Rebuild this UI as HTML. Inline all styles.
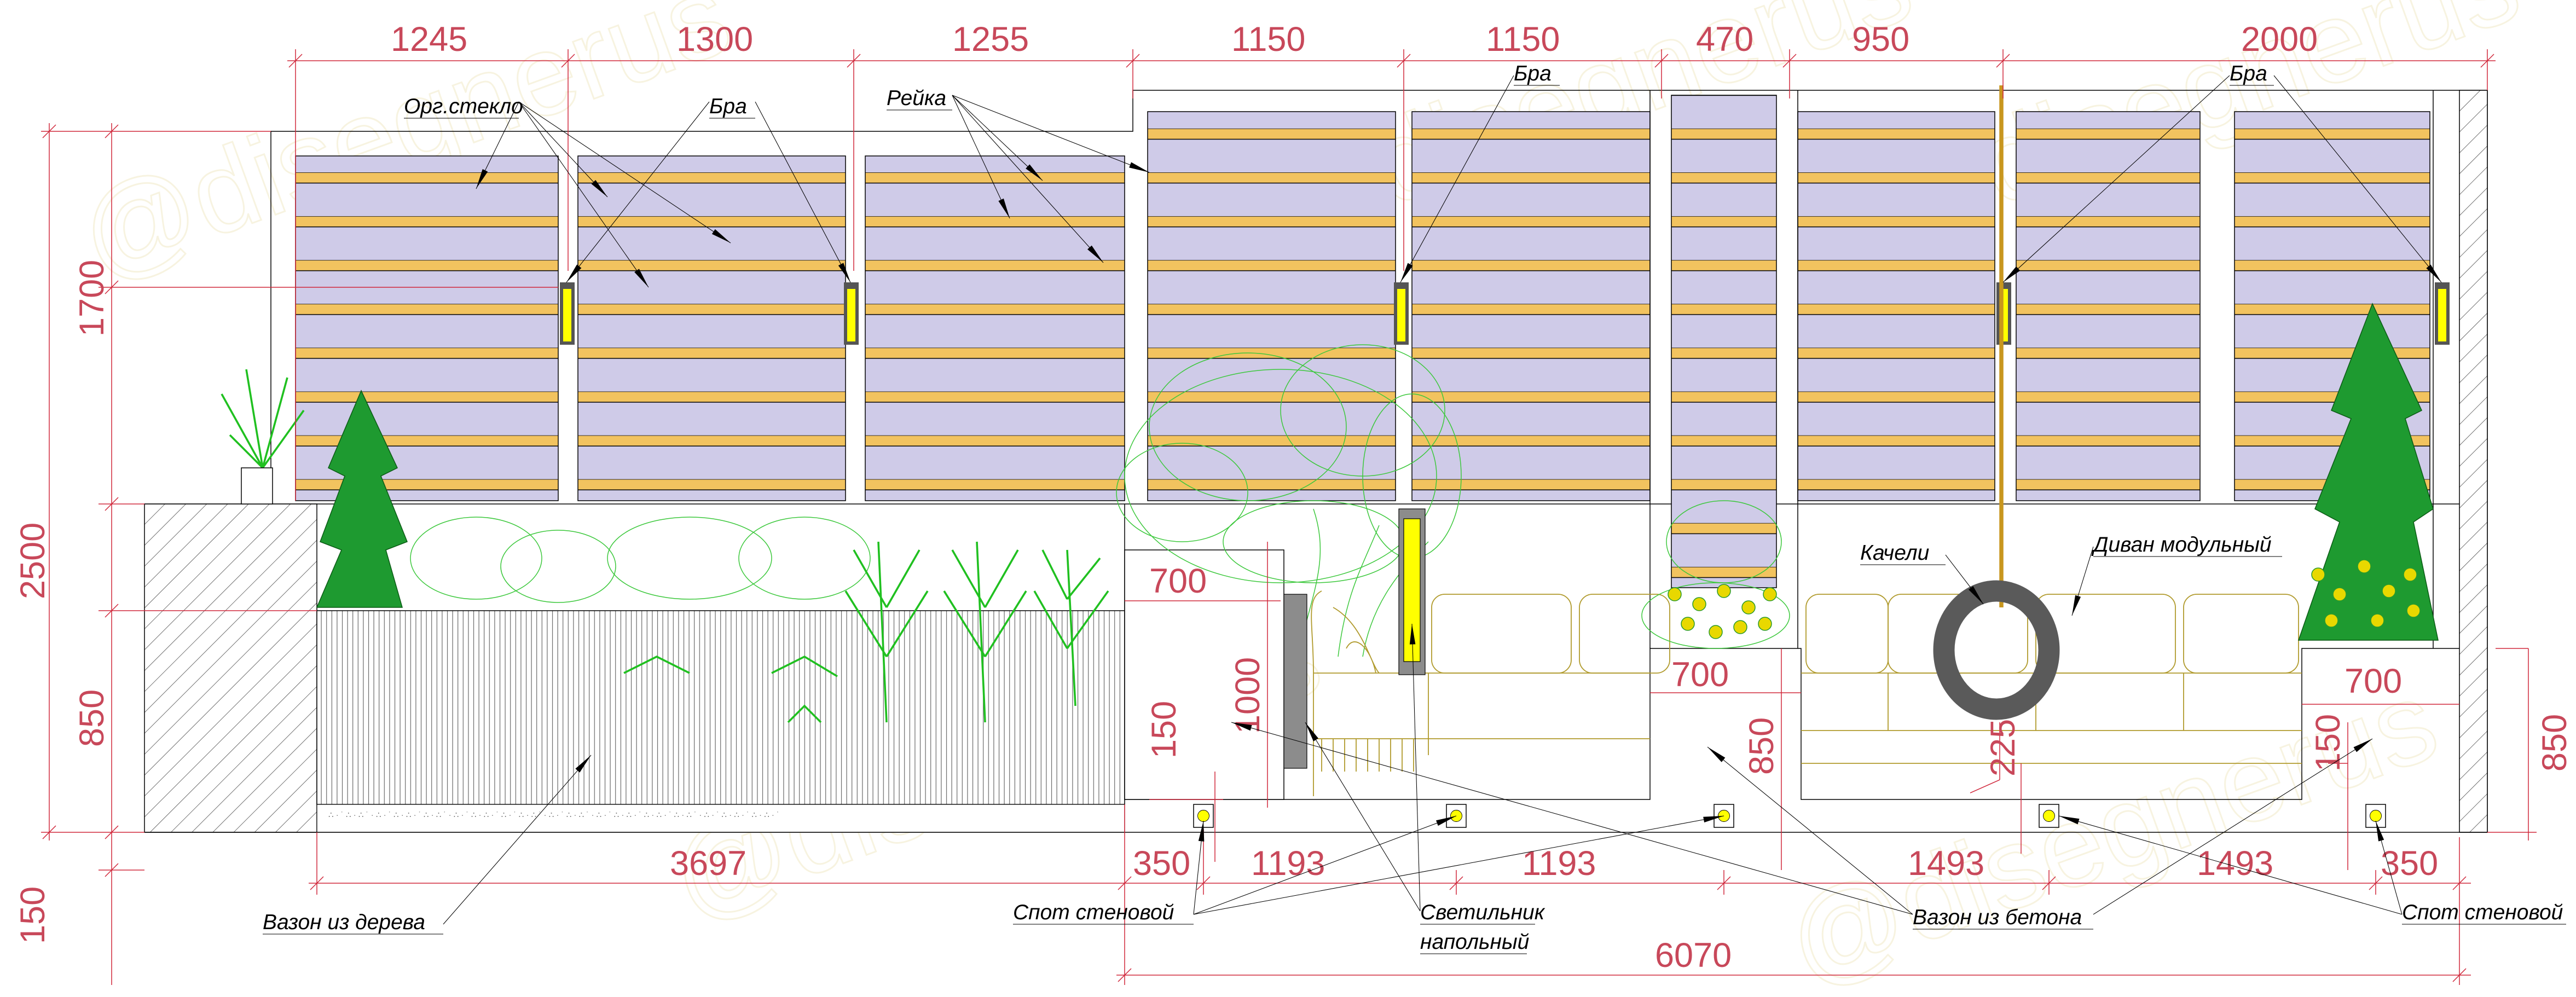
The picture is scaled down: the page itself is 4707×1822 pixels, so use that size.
<!DOCTYPE html>
<html><head><meta charset="utf-8"><style>
html,body{margin:0;padding:0;background:#fff;}
svg{display:block}
.lb{font-family:"Liberation Sans",sans-serif;font-style:italic;font-size:13px;fill:#000}
.dm{font-family:"Liberation Sans Narrow","Liberation Sans",sans-serif;font-size:21px;fill:#c8485a}
.r{stroke:#d0283c;stroke-width:0.5;fill:none}
.k{stroke:#000;stroke-width:0.5;fill:none}
.ld{stroke:#000;stroke-width:0.35;fill:none}
.g{stroke:#3cc83c;stroke-width:0.5;fill:none}
.s{stroke:#b09a2c;stroke-width:0.6;fill:none}
</style></head><body>
<svg width="4707" height="1822" viewBox="0 0 1569 607.33" preserveAspectRatio="none" xmlns="http://www.w3.org/2000/svg">
<defs>
<pattern id="sl" patternUnits="userSpaceOnUse" x="0" y="24.9" width="1569" height="26.7">
<rect width="1569" height="26.7" fill="#cfcbe8"/>
<rect y="0" width="1569" height="6.5" fill="#f2c35f"/>
<line x1="0" y1="0" x2="1569" y2="0" stroke="#000" stroke-width="0.5"/>
<line x1="0" y1="6.5" x2="1569" y2="6.5" stroke="#000" stroke-width="0.5"/>
</pattern>
<pattern id="st" patternUnits="userSpaceOnUse" width="3.2" height="10">
<rect width="3.2" height="10" fill="#fff"/><line x1="0.5" y1="0" x2="0.5" y2="10" stroke="#666" stroke-width="0.4"/>
</pattern>
<pattern id="ht" patternUnits="userSpaceOnUse" width="9" height="9" patternTransform="rotate(45)">
<rect width="9" height="9" fill="#fff"/><line x1="0" y1="0" x2="0" y2="9" stroke="#444" stroke-width="0.5"/>
</pattern>
<marker id="ar" viewBox="0 0 10 4" refX="10" refY="2" markerWidth="14" markerHeight="5" orient="auto" markerUnits="userSpaceOnUse"><path d="M0,0.6 L10,2 L0,3.4z" fill="#000"/></marker>
</defs>
<rect width="1569" height="608" fill="#fff"/>
<!-- watermarks -->
<g font-family="Liberation Sans,sans-serif" font-size="70" fill="none" stroke="#f7f3e0" stroke-width="1">
<text x="60" y="170" transform="rotate(-20 60 170)">@disegnerus</text>
<text x="780" y="150" transform="rotate(-20 780 150)">@disegnerus</text>
<text x="1150" y="150" transform="rotate(-20 1150 150)">@disegnerus</text>
<text x="420" y="560" transform="rotate(-20 420 560)">@disegnerus</text>
<text x="1100" y="600" transform="rotate(-20 1100 600)">@disegnerus</text>
</g>

<!-- frame -->
<path class="k" d="M165,307 V80 H690 V55 H1515 V507"/>
<line class="k" x1="88" y1="307" x2="1498" y2="307"/>
<!-- panels -->
<g stroke="#000" stroke-width="0.5" fill="url(#sl)">
<rect x="180" y="95" width="160" height="210"/>
<rect x="352" y="95" width="163" height="210"/>
<rect x="527" y="95" width="158" height="210"/>
<rect x="699" y="68" width="151" height="237"/>
<rect x="860" y="68" width="145" height="237"/>
<rect x="1018" y="58" width="64" height="300"/>
<rect x="1095" y="68" width="120" height="237"/>
<rect x="1228" y="68" width="112" height="237"/>
<rect x="1361" y="68" width="119" height="237"/>
</g>
<line class="k" x1="1005" y1="55" x2="1005" y2="395"/><line class="k" x1="1095" y1="55" x2="1095" y2="395"/>
<!-- right wall -->
<rect x="1498" y="55" width="17" height="452" fill="url(#ht)" stroke="#000" stroke-width="0.5"/>
<line class="k" x1="1482" y1="55" x2="1482" y2="395"/>
<!-- left wall -->
<rect x="88" y="307" width="105" height="200" fill="url(#ht)" stroke="#000" stroke-width="0.5"/>
<!-- wooden planter -->
<rect x="193" y="372" width="492" height="118" fill="url(#st)" stroke="#000" stroke-width="0.5"/>
<rect x="193" y="490" width="492" height="17" fill="#fff" stroke="#000" stroke-width="0.4"/>
<g fill="#777" font-size="5" font-family="Liberation Sans">
<text x="200" y="498">∴ · ˙ ∴  · ∴ ˙ · ∴ · ˙ ∴ ·  ∴ · ˙ ∴ · ∴ ˙ · ∴ · ˙ ∴ · ∴ · ˙ ∴ · ˙ ∴ · ∴ ˙ · ∴ · ˙ ∴ · ∴ ˙ · ∴ · ˙ ∴ · ∴ · ˙ ∴ ·  ∴ · ˙ ∴ · ∴ ˙ · ∴ · ˙ ∴ · ∴ · ˙ ∴ · ∴ · ˙</text>
</g>
<!-- ground -->
<line class="k" x1="88" y1="507" x2="1515" y2="507"/>
<!-- concrete planters -->
<path class="k" d="M685,307 V487 H1005 V395 H1097 V487 H1402 V395 H1498"/>
<rect x="685" y="335" width="97" height="152" fill="#fff" stroke="#000" stroke-width="0.5"/>
<!-- plants behind sofa -->
<g class="g">
<ellipse cx="780" cy="290" rx="95" ry="65"/><ellipse cx="760" cy="260" rx="60" ry="45"/><ellipse cx="830" cy="250" rx="50" ry="40"/>
<ellipse cx="720" cy="300" rx="40" ry="30"/><ellipse cx="800" cy="330" rx="55" ry="25"/><ellipse cx="860" cy="290" rx="30" ry="50"/>
<path d="M790,400 C800,360 810,340 800,310 M815,400 C820,360 830,345 840,320 M830,400 C835,370 850,350 870,330"/>
</g>
<!-- sofa -->
<g class="s">
<path d="M800,485 V410 H1005 M800,410 C800,380 795,365 805,360"/>
<rect x="872" y="362" width="85" height="48" rx="8"/><rect x="962" y="362" width="55" height="48" rx="8"/>
<rect x="1100" y="362" width="50" height="48" rx="8"/><rect x="1150" y="362" width="85" height="48" rx="8"/><rect x="1240" y="362" width="85" height="48" rx="8"/><rect x="1330" y="362" width="70" height="48" rx="8"/>
<path d="M1097,410 H1402 M800,450 H1005 M1097,445 H1402 M1097,465 H1402 M870,410 V460 M1150,410 V445 M1240,410 V445 M1330,410 V445"/>
<path d="M805,450 V470 M812,450 V470 M819,450 V470 M826,450 V470 M833,450 V470 M840,450 V470 M847,450 V470 M854,450 V470 M861,450 V470"/>
<path d="M812,370 C830,380 835,405 840,410 M820,395 C825,385 835,395 838,410"/>
</g>
<!-- grey panel and floor light -->
<rect x="782" y="362" width="14" height="106" fill="#8c8c8c" stroke="#000" stroke-width="0.4"/>
<rect x="852" y="310" width="16" height="101" fill="#8c8c8c" stroke="#000" stroke-width="0.4"/>
<rect x="855" y="316" width="10" height="87" fill="#ffff00" stroke="#000" stroke-width="0.4"/>
<!-- middle flower planter -->
<g class="g"><ellipse cx="1050" cy="330" rx="35" ry="25"/><ellipse cx="1045" cy="375" rx="45" ry="20"/></g>
<g fill="#e8d800" stroke="#2a9a2a" stroke-width="0.5">
<circle cx="1020" cy="362" r="4"/><circle cx="1035" cy="368" r="4"/><circle cx="1050" cy="360" r="4"/><circle cx="1065" cy="370" r="4"/><circle cx="1078" cy="362" r="4"/><circle cx="1028" cy="380" r="4"/><circle cx="1045" cy="385" r="4"/><circle cx="1060" cy="382" r="4"/><circle cx="1075" cy="380" r="4"/>
</g>
<!-- left palms/shrubs -->
<g class="g">
<ellipse cx="290" cy="340" rx="40" ry="25"/><ellipse cx="340" cy="345" rx="35" ry="22"/>
<ellipse cx="420" cy="340" rx="50" ry="25"/><ellipse cx="490" cy="340" rx="40" ry="25"/>
</g>
<g stroke="#20c020" stroke-width="1.2" fill="none">
<path d="M540,440 L535,330 M540,400 L515,360 M540,400 L565,360 M540,370 L520,335 M540,370 L560,335"/>
<path d="M600,440 L595,330 M600,400 L575,360 M600,400 L625,360 M600,370 L580,335 M600,370 L620,335"/>
<path d="M655,430 L650,335 M650,395 L630,360 M650,395 L675,360 M650,365 L635,335 M650,365 L670,340"/>
<path d="M380,410 L400,400 L420,410 M470,410 L490,400 L510,412 M480,440 L490,430 L500,440"/>
<path d="M160,285 L150,225 M160,285 L135,240 M160,285 L175,230 M160,285 L185,250 M160,285 L140,265"/>
</g>
<rect x="147" y="285" width="19" height="22" fill="#fff" stroke="#000" stroke-width="0.5"/>
<!-- cone trees -->
<path d="M220,238 L200,285 L210,290 L195,330 L208,335 L193,370 L245,370 L235,335 L248,330 L232,290 L242,285 Z" fill="#1e9a30" stroke="#0a5a14" stroke-width="0.5"/>
<path d="M1445,185 L1420,250 L1432,255 L1410,310 L1425,318 L1400,390 L1485,390 L1470,318 L1482,310 L1465,255 L1475,250 Z" fill="#1e9a30" stroke="#0a5a14" stroke-width="0.5"/>
<g fill="#e8d800" stroke="#2a9a2a" stroke-width="0.5">
<circle cx="1412" cy="350" r="4"/><circle cx="1425" cy="362" r="4"/><circle cx="1440" cy="345" r="4"/><circle cx="1455" cy="360" r="4"/><circle cx="1468" cy="350" r="4"/><circle cx="1420" cy="378" r="4"/><circle cx="1448" cy="378" r="4"/><circle cx="1470" cy="372" r="4"/>
</g>
<!-- bras -->
<g>
<rect x="341" y="172" width="9" height="38" fill="#555"/><rect x="343" y="176" width="5" height="32" fill="#ffff00"/>
<rect x="514" y="172" width="9" height="38" fill="#555"/><rect x="516" y="176" width="5" height="32" fill="#ffff00"/>
<rect x="849" y="172" width="9" height="38" fill="#555"/><rect x="851" y="176" width="5" height="32" fill="#ffff00"/>
<rect x="1216" y="172" width="9" height="38" fill="#555"/><rect x="1218" y="176" width="5" height="32" fill="#ffff00"/>
<rect x="1483" y="172" width="9" height="38" fill="#555"/><rect x="1485" y="176" width="5" height="32" fill="#ffff00"/>
</g>
<!-- swing -->
<line x1="1219" y1="52" x2="1219" y2="370" stroke="#c8961e" stroke-width="2.5"/>
<ellipse cx="1216" cy="396" rx="32" ry="36" fill="none" stroke="#5a5a5a" stroke-width="13"/>
<!-- spots -->
<g fill="#fff" stroke="#000" stroke-width="0.5">
<rect x="727" y="490" width="12" height="14"/><rect x="881" y="490" width="12" height="14"/><rect x="1044" y="490" width="12" height="14"/><rect x="1242" y="490" width="12" height="14"/><rect x="1441" y="490" width="12" height="14"/>
</g>
<g fill="#ffff00" stroke="#000" stroke-width="0.3">
<circle cx="733" cy="497" r="3.5"/><circle cx="887" cy="497" r="3.5"/><circle cx="1050" cy="497" r="3.5"/><circle cx="1248" cy="497" r="3.5"/><circle cx="1447" cy="497" r="3.5"/>
</g>

<!-- dimensions -->
<g class="r">
<line x1="175" y1="37" x2="1520" y2="37"/>
<line x1="180" y1="30" x2="180" y2="305"/><line x1="346" y1="30" x2="346" y2="165"/><line x1="520" y1="30" x2="520" y2="165"/>
<line x1="690" y1="30" x2="690" y2="60"/><line x1="855" y1="30" x2="855" y2="165"/><line x1="1012" y1="30" x2="1012" y2="60"/>
<line x1="1090" y1="30" x2="1090" y2="60"/><line x1="1220" y1="30" x2="1220" y2="60"/><line x1="1515" y1="30" x2="1515" y2="55"/>
<path d="M176,41 L184,33 M342,41 L350,33 M516,41 L524,33 M686,41 L694,33 M851,41 L859,33 M1008,41 L1016,33 M1086,41 L1094,33 M1216,41 L1224,33 M1511,41 L1519,33"/>
<line x1="30" y1="75" x2="30" y2="512"/><line x1="68" y1="75" x2="68" y2="600"/>
<line x1="25" y1="80" x2="165" y2="80"/><line x1="60" y1="175" x2="340" y2="175"/><line x1="60" y1="307" x2="88" y2="307"/>
<line x1="60" y1="372" x2="193" y2="372"/><line x1="25" y1="507" x2="88" y2="507"/><line x1="60" y1="530" x2="88" y2="530"/>
<path d="M26,84 L34,76 M64,84 L72,76 M64,179 L72,171 M64,311 L72,303 M64,376 L72,368 M26,511 L34,503 M64,511 L72,503 M64,534 L72,526"/>
<line x1="188" y1="538" x2="1505" y2="538"/><line x1="680" y1="594" x2="1505" y2="594"/>
<line x1="193" y1="507" x2="193" y2="545"/><line x1="685" y1="490" x2="685" y2="600"/><line x1="733" y1="505" x2="733" y2="545"/>
<line x1="887" y1="530" x2="887" y2="545"/><line x1="1050" y1="530" x2="1050" y2="545"/><line x1="1248" y1="530" x2="1248" y2="545"/>
<line x1="1447" y1="530" x2="1447" y2="545"/><line x1="1498" y1="510" x2="1498" y2="600"/>
<path d="M189,542 L197,534 M681,542 L689,534 M729,542 L737,534 M883,542 L891,534 M1046,542 L1054,534 M1244,542 L1252,534 M1443,542 L1451,534 M1494,542 L1502,534 M681,598 L689,590 M1494,598 L1502,590"/>
<line x1="685" y1="366" x2="780" y2="366"/><line x1="772" y1="330" x2="772" y2="492"/><line x1="740" y1="470" x2="740" y2="525"/><line x1="700" y1="487" x2="745" y2="487"/>
<line x1="1005" y1="422" x2="1097" y2="422"/><line x1="1085" y1="395" x2="1085" y2="530"/>
<line x1="1402" y1="429" x2="1498" y2="429"/><line x1="1430" y1="440" x2="1430" y2="530"/><line x1="1418" y1="465" x2="1430" y2="465"/>
<line x1="1520" y1="395" x2="1540" y2="395"/><line x1="1540" y1="395" x2="1540" y2="512"/><line x1="1515" y1="507" x2="1545" y2="507"/>
<line x1="1218" y1="440" x2="1218" y2="475"/><line x1="1218" y1="475" x2="1200" y2="483"/><line x1="1231" y1="465" x2="1231" y2="520"/>
</g>
<g class="dm">
<text x="238" y="31">1245</text><text x="412" y="31">1300</text><text x="580" y="31">1255</text><text x="750" y="31">1150</text><text x="905" y="31">1150</text>
<text x="1033" y="31">470</text><text x="1128" y="31">950</text><text x="1365" y="31">2000</text>
<text x="408" y="533">3697</text><text x="690" y="533">350</text><text x="762" y="533">1193</text><text x="927" y="533">1193</text>
<text x="1162" y="533">1493</text><text x="1338" y="533">1493</text><text x="1450" y="533">350</text>
<text x="1008" y="589">6070</text>
<text x="700" y="361">700</text><text x="1018" y="418">700</text><text x="1428" y="422">700</text>
<text transform="translate(63,205) rotate(-90)">1700</text>
<text transform="translate(27,365) rotate(-90)">2500</text>
<text transform="translate(63,455) rotate(-90)">850</text>
<text transform="translate(27,575) rotate(-90)">150</text>
<text transform="translate(767,447) rotate(-90)">1000</text>
<text transform="translate(716,462) rotate(-90)">150</text>
<text transform="translate(1080,472) rotate(-90)">850</text>
<text transform="translate(1227,473) rotate(-90)">225</text>
<text transform="translate(1425,470) rotate(-90)">150</text>
<text transform="translate(1563,470) rotate(-90)">850</text>
</g>

<!-- labels -->
<g class="lb">
<text x="246" y="69">Орг.стекло</text>
<text x="432" y="69">Бра</text>
<text x="540" y="64">Рейка</text>
<text x="922" y="49">Бра</text>
<text x="1358" y="49">Бра</text>
<text x="1133" y="341">Качели</text>
<text x="1275" y="336">Диван модульный</text>
<text x="160" y="566">Вазон из дерева</text>
<text x="617" y="560">Спот стеновой</text>
<text x="865" y="560">Светильник</text>
<text x="865" y="578">напольный</text>
<text x="1165" y="563">Вазон из бетона</text>
<text x="1463" y="560">Спот стеновой</text>
</g>
<g class="ld">
<path d="M246,72 H316 M432,72 H460 M540,67 H580 M922,52 H950 M1358,52 H1385 M1133,344 H1185 M1275,339 H1390 M160,569 H270 M617,563 H727 M865,563 H935 M865,581 H930 M1165,566 H1275 M1463,563 H1563"/>
</g>
<g class="ld" marker-end="url(#ar)">
<line x1="316" y1="62" x2="290" y2="115"/><line x1="316" y1="62" x2="395" y2="175"/><line x1="316" y1="62" x2="445" y2="148"/><line x1="316" y1="62" x2="370" y2="120"/>
<line x1="432" y1="62" x2="345" y2="172"/><line x1="460" y1="62" x2="518" y2="172"/>
<line x1="580" y1="58" x2="615" y2="133"/><line x1="580" y1="58" x2="672" y2="160"/><line x1="580" y1="58" x2="635" y2="110"/><line x1="580" y1="58" x2="700" y2="105"/>
<line x1="922" y1="46" x2="853" y2="172"/><line x1="1358" y1="46" x2="1220" y2="172"/><line x1="1385" y1="46" x2="1487" y2="172"/>
<line x1="1185" y1="338" x2="1208" y2="368"/><line x1="1275" y1="333" x2="1262" y2="375"/>
<line x1="270" y1="563" x2="360" y2="460"/>
<line x1="727" y1="557" x2="733" y2="500"/><line x1="727" y1="557" x2="887" y2="497"/><line x1="727" y1="557" x2="1050" y2="497"/>
<line x1="865" y1="555" x2="795" y2="440"/><line x1="865" y1="555" x2="860" y2="380"/>
<line x1="1165" y1="557" x2="750" y2="440"/><line x1="1165" y1="557" x2="1040" y2="455"/><line x1="1275" y1="557" x2="1445" y2="450"/>
<line x1="1463" y1="557" x2="1254" y2="497"/><line x1="1463" y1="557" x2="1447" y2="500"/>
</g>
</svg>
</body></html>
